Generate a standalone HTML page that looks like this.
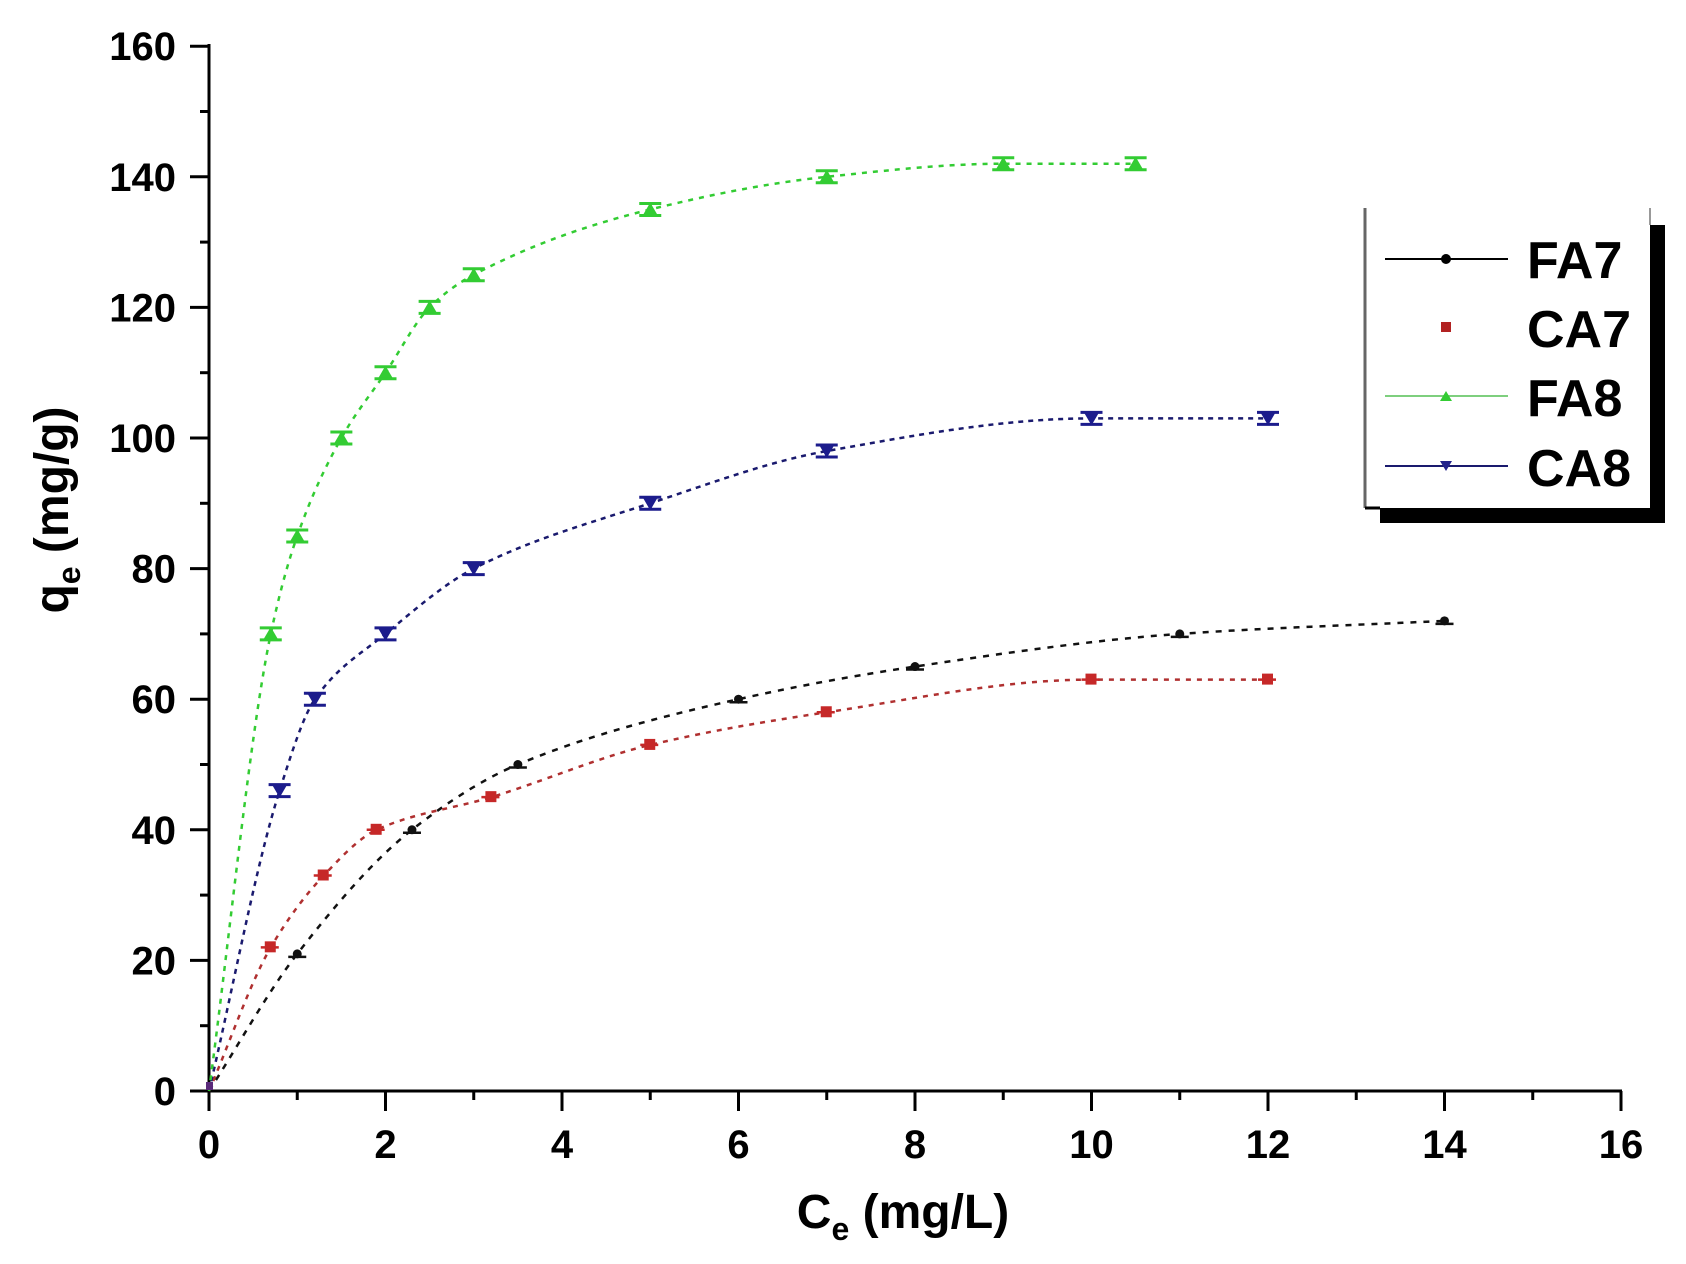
<!DOCTYPE html>
<html><head><meta charset="utf-8"><style>
html,body{margin:0;padding:0;background:#fff;}
svg{display:block;font-family:"Liberation Sans",Arial,sans-serif;font-weight:bold;}
</style></head><body>
<svg id="s" width="1686" height="1264" viewBox="0 0 1686 1264" xmlns="http://www.w3.org/2000/svg">
<rect width="1686" height="1264" fill="#fff"/>
<g id="axes" stroke="#000" stroke-width="3" fill="none">
<line x1="209" y1="44" x2="209" y2="1111"/>
<line x1="190" y1="1091" x2="1622" y2="1091"/>
</g>
<g id="ticks" stroke="#000" stroke-width="3"></g>
<g id="labels" font-size="40" fill="#000"></g>
<text x="903" y="1228" font-size="48" text-anchor="middle">C<tspan font-size="32" dy="12">e</tspan><tspan dy="-12"> (mg/L)</tspan></text>
<text transform="translate(68,510) rotate(-90)" font-size="48" text-anchor="middle">q<tspan font-size="32" dy="12">e</tspan><tspan dy="-12"> (mg/g)</tspan></text>
<g id="series"></g>
<rect x="1380" y="225" width="285" height="298" fill="#000"/>
<rect x="1365" y="210" width="285" height="298" fill="#fff"/>
<line x1="1365" y1="208" x2="1365" y2="508" stroke="#666" stroke-width="3"/>
<line x1="1650" y1="208" x2="1650" y2="225" stroke="#999" stroke-width="2"/>
<line x1="1365" y1="508" x2="1380" y2="508" stroke="#000" stroke-width="3"/>
<g font-size="52" fill="#000">
<line x1="1385" y1="259" x2="1508" y2="259" stroke="#000" stroke-width="2"/><circle cx="1446" cy="259" r="5" fill="#000"/>
<text x="1527" y="278">FA7</text>
<rect x="1441" y="322" width="10" height="10" fill="#b22222"/>
<text x="1527" y="347">CA7</text>
<line x1="1385" y1="396" x2="1508" y2="396" stroke="#7ecf7e" stroke-width="2"/><polygon points="1440,401 1452,401 1446,391" fill="#3c3"/>
<text x="1527" y="416">FA8</text>
<line x1="1385" y1="466" x2="1508" y2="466" stroke="#1a1a6e" stroke-width="2"/><polygon points="1440,461 1452,461 1446,471" fill="#22228b"/>
<text x="1527" y="486">CA8</text>
</g>
</svg>
<script>
const NS="http://www.w3.org/2000/svg";
const X=v=>209+88.25*v, Y=v=>1091-6.53*v;
function el(p,t,a,txt){const e=document.createElementNS(NS,t);for(const k in a)e.setAttribute(k,a[k]);if(txt!==undefined)e.textContent=txt;p.appendChild(e);return e;}
const tk=document.getElementById('ticks'),lb=document.getElementById('labels');
for(let i=0;i<=16;i++){const x=X(i);const major=i%2==0;el(tk,'line',{x1:x,y1:1091,x2:x,y2:major?1111:1100});
 if(major)el(lb,'text',{x:x,y:1158,'text-anchor':'middle'},String(i));}
for(let i=0;i<=160;i+=10){const y=Y(i);const major=i%20==0;el(tk,'line',{x1:major?190:200,y1:y,x2:209,y2:y});
 if(major)el(lb,'text',{x:176,y:y+14,'text-anchor':'end'},String(i));}
const S=document.getElementById('series');
function curve(pts,color,dash){
 const n=pts.length,xs=pts.map(p=>p[0]),ys=pts.map(p=>p[1]);
 const d=[],m=new Array(n);
 for(let i=0;i<n-1;i++)d.push((ys[i+1]-ys[i])/(xs[i+1]-xs[i]));
 m[0]=d[0];m[n-1]=d[n-2];
 for(let i=1;i<n-1;i++){if(d[i-1]*d[i]<=0)m[i]=0;else{const w1=2*(xs[i+1]-xs[i])+(xs[i]-xs[i-1]),w2=(xs[i+1]-xs[i])+2*(xs[i]-xs[i-1]);m[i]=(w1+w2)/(w1/d[i-1]+w2/d[i]);}}
 let s='M'+X(xs[0])+' '+Y(ys[0]);
 for(let i=0;i<n-1;i++){const h=xs[i+1]-xs[i];
  s+=` C${X(xs[i]+h/3)} ${Y(ys[i]+m[i]*h/3)} ${X(xs[i+1]-h/3)} ${Y(ys[i+1]-m[i+1]*h/3)} ${X(xs[i+1])} ${Y(ys[i+1])}`;}
 el(S,'path',{d:s,fill:'none',stroke:color,'stroke-width':2.5,'stroke-dasharray':dash});
}
function marks(pts,type,color,err){
 pts.forEach(p=>{const x=X(p[0]),y=Y(p[1]);
  if(err){el(S,'line',{x1:x-11,y1:y-6,x2:x+11,y2:y-6,stroke:color,'stroke-width':3});el(S,'line',{x1:x-11,y1:y+6,x2:x+11,y2:y+6,stroke:color,'stroke-width':3});el(S,'line',{x1:x,y1:y-6,x2:x,y2:y+6,stroke:color,'stroke-width':3});}
  if(type=='up')el(S,'polygon',{points:`${x-7},${y+5} ${x+7},${y+5} ${x},${y-7}`,fill:color});
  if(type=='down')el(S,'polygon',{points:`${x-7},${y-5} ${x+7},${y-5} ${x},${y+7}`,fill:color});
  if(type=='dot'){el(S,'circle',{cx:x,cy:y,r:4.5,fill:color});el(S,'line',{x1:x-9,y1:y+3,x2:x+9,y2:y+3,stroke:color,'stroke-width':2.5});}
  if(type=='sq'){el(S,'rect',{x:x-6,y:y-6,width:11,height:11,fill:color});el(S,'line',{x1:x-10,y1:y,x2:x+8,y2:y,stroke:color,'stroke-width':2.5});}
 });
}
const FA8=[[0,0],[0.7,70],[1,85],[1.5,100],[2,110],[2.5,120],[3,125],[5,135],[7,140],[9,142],[10.5,142]];
const CA8=[[0,0],[0.8,46],[1.2,60],[2,70],[3,80],[5,90],[7,98],[10,103],[12,103]];
const FA7=[[0,0],[1,21],[2.3,40],[3.5,50],[6,60],[8,65],[11,70],[14,72]];
const CA7=[[0,0],[0.7,22],[1.3,33],[1.9,40],[3.2,45],[5,53],[7,58],[10,63],[12,63]];
curve(FA7,'#111','6 7');curve(CA7,'#b03030','5 6');curve(CA8,'#1a1a6e','5 5');curve(FA8,'#3c3','5 6');
marks(FA7.slice(1),'dot','#111');marks(CA7.slice(1),'sq','#c62828');
marks(CA8.slice(1),'down','#1c1c8c',true);marks(FA8.slice(1),'up','#33cc33',true);
el(S,'rect',{x:206,y:1082,width:7,height:8,fill:'#5a2a7a'});
</script>
</body></html>
